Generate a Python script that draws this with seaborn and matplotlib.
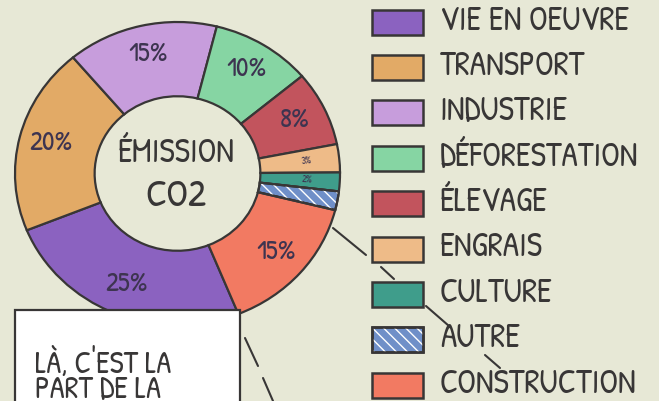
import matplotlib
matplotlib.use("Agg")
import matplotlib.pyplot as plt
import seaborn as sns
import numpy as np
from matplotlib.patches import Rectangle, Wedge
from matplotlib.lines import Line2D
from matplotlib import font_manager

# ---- data ----
categories = ["VIE EN OEUVRE", "TRANSPORT", "INDUSTRIE", "DÉFORESTATION", "ÉLEVAGE",
              "ENGRAIS", "CULTURE", "AUTRE", "CONSTRUCTION"]
values = [25, 20, 15, 10, 8, 3, 2, 2, 15]
show_label = [True, True, True, True, True, True, True, False, True]
colors = ["#8b62c0", "#e2aa66", "#c79ddc", "#86d5a3", "#c2545d",
          "#eebb88", "#3f9d8b", "#6f8fc8", "#f27a62"]
center_lines = ["ÉMISSION", "CO2"]
note_lines = ["LÀ, C'EST LA", "PART DE LA"]

BG = "#e7e8d6"
INK = "#383636"
W, H = 659, 401

sns.set_theme(style="white", rc={"figure.facecolor": BG, "axes.facecolor": BG,
                                 "savefig.facecolor": BG})
names = {f.name for f in font_manager.fontManager.ttflist}
FONT = "Patrick Hand" if "Patrick Hand" in names else "DejaVu Sans"
plt.rcParams["font.family"] = [FONT, "DejaVu Sans"]

palette = sns.color_palette(colors)

def fx(x):
    return x / W

def fy(y):
    return 1 - y / H

fig = plt.figure(figsize=(W / 100, H / 100), dpi=100)

# donut axes (slightly elliptical like the drawing)
ax = fig.add_axes([fx(15), fy(325), 325 / W, 303 / H])
wedges, _ = ax.pie(values, colors=palette, startangle=-68, counterclock=False,
                   radius=1.0, wedgeprops=dict(width=0.49, edgecolor=INK, linewidth=1.6))
ax.set_aspect("auto")
ax.set_xlim(-1.0, 1.0)
ax.set_ylim(-1.0, 1.0)
ax.axis("off")

# hatch on AUTRE
iA = categories.index("AUTRE")
wa = wedges[iA]
ax.add_patch(Wedge(wa.center, wa.r, wa.theta1, wa.theta2, width=wa.width,
                   facecolor="none", edgecolor="white", hatch="\\\\\\", linewidth=0))
ax.add_patch(Wedge(wa.center, wa.r, wa.theta1, wa.theta2, width=wa.width,
                   facecolor="none", edgecolor=INK, linewidth=1.6))

# percent labels
for w, v, show in zip(wedges, values, show_label):
    if not show:
        continue
    mid = np.deg2rad((w.theta1 + w.theta2) / 2)
    small = v < 5
    r = 0.80
    size = 20 if not small else 7
    ax.text(r * np.cos(mid), r * np.sin(mid), f"{v}%", ha="center", va="center",
            fontsize=size, color="#3d3450", rotation=(np.rad2deg(mid) if small else 0))

# center text
fig.text(fx(176), fy(156), center_lines[0], ha="center", va="center", fontsize=24, color=INK)
fig.text(fx(176), fy(198), center_lines[1], ha="center", va="center", fontsize=28, color=INK)

# pointer line from AUTRE slice
for (x0, y0), (x1, y1) in [((333, 228), (366, 255)), ((381, 267), (394, 279)),
                           ((426, 306), (449, 326)), ((485, 355), (500, 368))]:
    fig.add_artist(Line2D([fx(x0), fx(x1)], [fy(y0), fy(y1)], color=INK, lw=1.5))

# legend
for i, (cat, col) in enumerate(zip(categories, palette)):
    yc = 22 + 45.4 * i
    x0, y0 = fx(372), fy(yc + 12.5)
    fig.add_artist(Rectangle((x0, y0), 51 / W, 25 / H, transform=fig.transFigure,
                             facecolor=col, edgecolor=INK, linewidth=1.8))
    if cat == "AUTRE":
        fig.add_artist(Rectangle((x0, y0), 51 / W, 25 / H, transform=fig.transFigure,
                                 facecolor="none", edgecolor="white", hatch="\\\\\\",
                                 linewidth=0))
        fig.add_artist(Rectangle((x0, y0), 51 / W, 25 / H, transform=fig.transFigure,
                                 facecolor="none", edgecolor=INK, linewidth=1.8))
    fig.text(fx(440), fy(yc + 1), cat, ha="left", va="center", fontsize=24, color=INK)

# callout box
fig.add_artist(Rectangle((fx(15), fy(415)), 225 / W, 105 / H, transform=fig.transFigure,
                         facecolor="white", edgecolor=INK, linewidth=1.6, zorder=5))
fig.text(fx(35), fy(366), note_lines[0], ha="left", va="center", fontsize=22, color=INK, zorder=6)
fig.text(fx(35), fy(392), note_lines[1], ha="left", va="center", fontsize=22, color=INK, zorder=6)
for (x0, y0), (x1, y1) in [((245, 338), (258, 366)), ((263, 378), (273, 401))]:
    fig.add_artist(Line2D([fx(x0), fx(x1)], [fy(y0), fy(y1)], color=INK, lw=1.5))

fig.savefig("out.png", dpi=100, facecolor=BG)
